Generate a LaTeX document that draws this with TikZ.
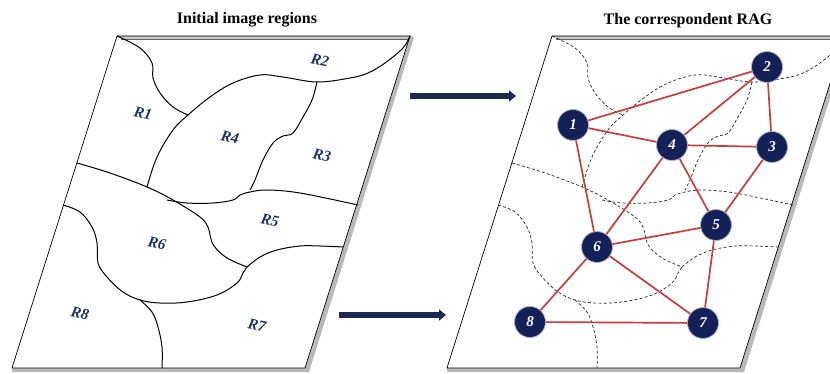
\documentclass[tikz,border=0pt]{standalone}
\usepackage{fontspec}
\setmainfont{Liberation Serif}
\usetikzlibrary{arrows.meta}
\definecolor{navy}{RGB}{20,32,88}
\definecolor{arrownavy}{RGB}{28,40,78}
\definecolor{edgered}{RGB}{200,60,62}
\definecolor{labelblue}{RGB}{30,50,100}
\tikzset{
 boundary/.style={line width=1pt, black},
 dboundary/.style={line width=0.7pt, black!85, dash pattern=on 3pt off 2.2pt},
 rlabel/.style={font=\bfseries\itshape\fontsize{15.5}{15.5}\selectfont, text=labelblue, rotate=-12},
 title/.style={font=\bfseries\fontsize{16}{16}\selectfont},
 rag/.style={circle, fill=navy, draw=navy!35, line width=0.8pt, minimum size=31pt, inner sep=0pt, text=white, font=\bfseries\itshape\fontsize{15}{15}\selectfont},
 ragedge/.style={edgered, line width=1.7pt},
 bigarrow/.style={arrownavy, line width=5.5pt, -{Triangle[length=7pt,width=11pt]}},
}
\newcommand{\drawplate}{%
 \fill[gray!55] (410,35.5) -- (414,37.5) -- (309,372) -- (12,372) -- (12,368) -- (305,368) -- cycle;
 \fill[white] (117,36) -- (410,36) -- (305,368) -- (12,368) -- cycle;
 \fill[gray!45] (118,36) -- (410,36) -- (409,39) -- (121,39) -- cycle;
 \draw[black!60, line width=0.4pt] (121,39) -- (409,39);
 \draw[line width=0.7pt] (117,36) -- (410,36) -- (305,368) -- (12,368) -- cycle;
}
\newcommand{\regioncurves}[1]{%
 \draw[#1] plot[smooth, tension=0.6] coordinates {(117,36) (140,48) (152,63) (153,78) (160,93) (173,107) (188,115)};
 \draw[#1] plot[smooth, tension=0.6] coordinates {(147,187) (157,157) (173,130) (188,115) (210,97) (233,83) (260,75) (283,77) (317,82) (350,78) (368,73) (385,63) (403,48) (410,36)};
 \draw[#1] plot[smooth, tension=0.6] coordinates {(317,82) (312,100) (303,117) (293,133) (283,136) (273,143) (263,160) (255,180) (250,190)};
 \draw[#1] plot[smooth, tension=0.6] coordinates {(77,163) (110,173) (147,187) (173,200) (200,217) (208,227) (210,235) (214,246) (227,258) (247,267)};
 \draw[#1] plot[smooth, tension=0.6] coordinates {(167,200) (187,203) (213,203) (233,200) (240,195) (250,192) (267,190) (300,193) (358,205)};
 \draw[#1] plot[smooth, tension=0.6] coordinates {(247,267) (260,257) (277,250) (300,246) (320,246) (343,247)};
 \draw[#1] plot[smooth, tension=0.6] coordinates {(63,205) (80,212) (92,227) (97,243) (98,263) (107,277) (123,292) (140,300) (160,303) (187,302) (217,295) (237,283) (243,273) (247,267)};
 \draw[#1] plot[smooth, tension=0.6] coordinates {(140,300) (152,312) (158,327) (162,347) (162,368)};
}
\begin{document}
\begin{tikzpicture}[x=1pt,y=-1pt]
\useasboundingbox (0,0) rectangle (830,374);
% left panel
\drawplate
\regioncurves{boundary}
\node[title] (t1) at (247,20) {Initial image regions};
\node[rlabel] (r1) at (143,113) {R1};
\node[rlabel] (r2) at (320,60) {R2};
\node[rlabel] (r4) at (230,137) {R4};
\node[rlabel] (r3) at (322,155) {R3};
\node[rlabel] (r5) at (270,220) {R5};
\node[rlabel] (r6) at (157,243) {R6};
\node[rlabel] (r8) at (80,313) {R8};
\node[rlabel] (r7) at (257,325) {R7};
% right panel
\begin{scope}[xshift=435pt]
\drawplate
\regioncurves{dboundary}
\end{scope}
\node[title] (t2) at (688,21) {The correspondent RAG};
\node[rag] (n1) at (573,125) {1};
\node[rag] (n2) at (767,67) {2};
\node[rag] (n3) at (772,147) {3};
\node[rag] (n4) at (672,145) {4};
\node[rag] (n5) at (716,225) {5};
\node[rag] (n6) at (597,247) {6};
\node[rag] (n7) at (703,323) {7};
\node[rag] (n8) at (530,322) {8};
\draw[ragedge] (n1) -- (n2);
\draw[ragedge] (n1) -- (n4);
\draw[ragedge] (n1) -- (n6);
\draw[ragedge] (n2) -- (n4);
\draw[ragedge] (n2) -- (n3);
\draw[ragedge] (n4) -- (n3);
\draw[ragedge] (n4) -- (n6);
\draw[ragedge] (n4) -- (n5);
\draw[ragedge] (n3) -- (n5);
\draw[ragedge] (n5) -- (n6);
\draw[ragedge] (n5) -- (n7);
\draw[ragedge] (n6) -- (n7);
\draw[ragedge] (n6) -- (n8);
\draw[ragedge] (n8) -- (n7);
% arrows
\coordinate (a1s) at (410,96);
\coordinate (a1e) at (516,96);
\coordinate (a2s) at (339,315);
\coordinate (a2e) at (446,315);
\draw[bigarrow] (a1s) -- (a1e);
\draw[bigarrow] (a2s) -- (a2e);
\end{tikzpicture}
\end{document}
